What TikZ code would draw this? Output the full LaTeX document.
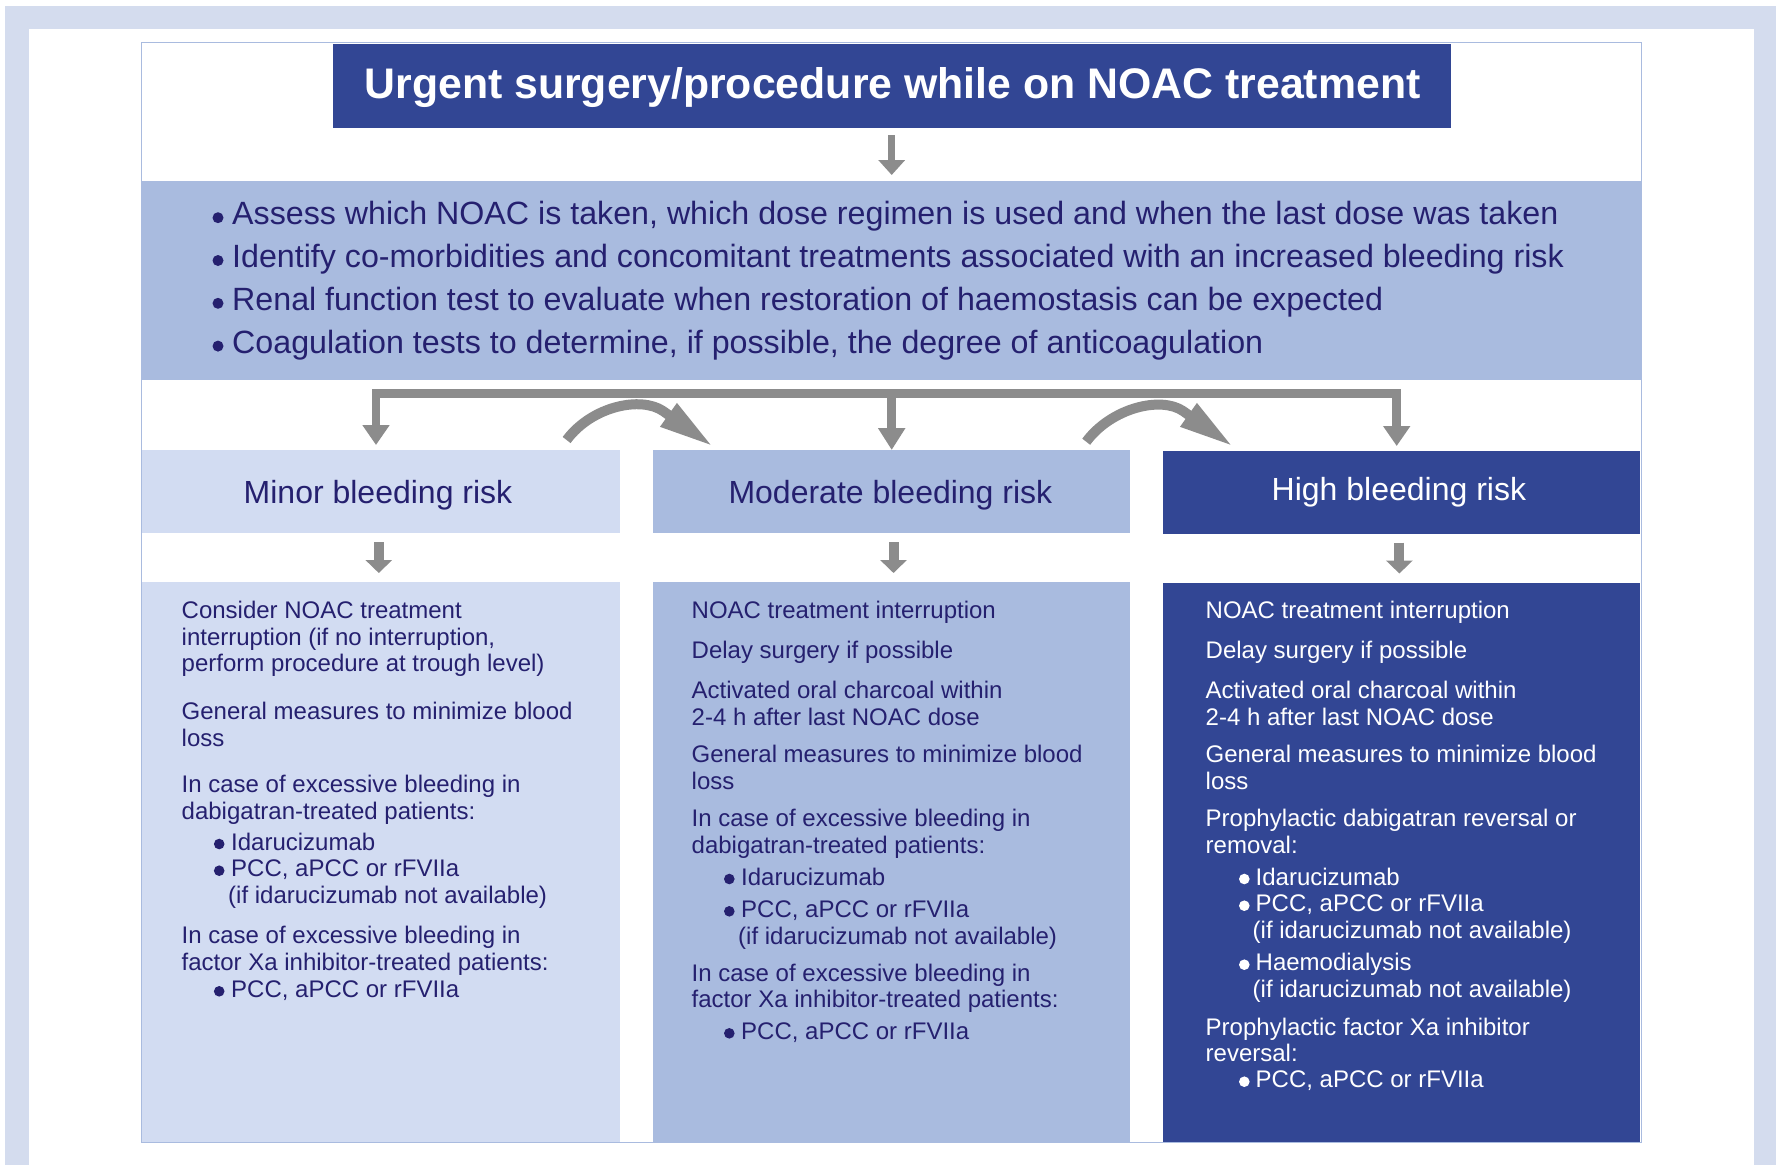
\documentclass[tikz,border=0pt]{standalone}
\usepackage{fontspec}
\setmainfont{Liberation Sans}
\usetikzlibrary{arrows.meta,calc}
\definecolor{framebg}{HTML}{D4DCEE}
\definecolor{lightb}{HTML}{D2DCF2}
\definecolor{midb}{HTML}{A9BBDF}
\definecolor{darkb}{HTML}{324694}
\definecolor{navy}{HTML}{25206F}
\definecolor{agray}{HTML}{8C8C8C}
\begin{document}
\begin{tikzpicture}[x=1pt,y=-1pt,
  box/.style={draw=none, inner sep=0pt, outer sep=0pt, anchor=north west},
  para/.style={inner sep=0pt, anchor=base west, align=left, text=navy, font=\fontsize{24pt}{26.7pt}\selectfont},
  wpara/.style={para, text=white},
  riskhead/.style={inner sep=0pt, anchor=base, font=\fontsize{32pt}{38pt}\selectfont},
  conn/.style={draw=agray, line width=8.5pt, line join=miter},
  smallarrow/.style={draw=agray, line width=10pt, -{Triangle[length=13pt,width=26pt]}, shorten <=8.7pt, shorten >=9pt},
  curvearrow/.style={draw=agray, line width=10pt, line join=round, -{Triangle[length=55pt,width=26pt]}},
]
\useasboundingbox (0,0) rectangle (1776,1165);
% outer frame
\fill[framebg] (5,6) rectangle (1776,1165);
\fill[white] (29,29) rectangle (1754,1165);
\node[box, fill=white, minimum width=1500pt, minimum height=1100.4pt] (frame) at (141.7,42.3) {};

% title
\node[box, fill=darkb, minimum width=1118pt, minimum height=84.2pt] (title) at (332.7,43.5) {};
\node[inner sep=0pt, anchor=base, text=white, font=\bfseries\fontsize{42.8pt}{50pt}\selectfont] (titletext) at (892.5,98.7) {Urgent surgery/procedure while on NOAC treatment};

% band (multi-line nodes: base anchor = last baseline)
\node[box, fill=midb, minimum width=1500pt, minimum height=199pt] (band) at (141.7,181) {};
\node[inner sep=0pt, anchor=base west, align=left, text=navy, font=\fontsize{32.2pt}{42.8pt}\selectfont] (bandtext) at (232,353.1)
 {Assess which NOAC is taken, which dose regimen is used and when the last dose was taken\\
  Identify co-morbidities and concomitant treatments associated with an increased bleeding risk\\
  Renal function test to evaluate when restoration of haemostasis can be expected\\
  Coagulation tests to determine, if possible, the degree of anticoagulation};
\foreach \k in {0,1,2,3} \fill[navy] (218,217.7+42.8*\k) circle (5.5);

% risk boxes
\node[box, fill=lightb, minimum width=477.6pt, minimum height=83.3pt] (minor) at (142,450) {};
\node[box, fill=midb, minimum width=477pt, minimum height=83.3pt] (moderate) at (653,450) {};
\node[box, fill=darkb, minimum width=476.9pt, minimum height=83.3pt] (high) at (1163.3,450.5) {};
\node[riskhead, text=navy] (minort) at (378,503.3) {Minor bleeding risk};
\node[riskhead, text=navy] (moderatet) at (890.4,503.3) {Moderate bleeding risk};
\node[riskhead, text=white] (hight) at (1398.9,500) {High bleeding risk};

% content boxes
\node[box, fill=lightb, minimum width=477.6pt, minimum height=560.3pt] (minorc) at (142,582) {};
\node[box, fill=midb, minimum width=477pt, minimum height=560.3pt] (moderatec) at (653,582) {};
\node[box, fill=darkb, minimum width=476.9pt, minimum height=559.5pt] (highc) at (1163.3,582.5) {};

% frame border
\draw[midb, line width=1.5pt] (frame.north west) rectangle (frame.south east);

% arrows
\draw[agray, line width=7.5pt, -{Triangle[length=15pt,width=26pt]}, shorten <=7.3pt, shorten >=6pt] (title.south) -- (title.south |- band.north);
\coordinate (hl) at (376,393.5);
\coordinate (hm) at (891.7,393.5);
\coordinate (hr) at (1396.7,393.5);
\draw[conn, {Triangle[length=20pt,width=26pt]}-{Triangle[length=20pt,width=26pt]}, shorten <=5pt, shorten >=4.5pt]
  (hl |- minor.north) -- (hl) -- (hr) -- (hr |- high.north);
\draw[conn, -{Triangle[length=22pt,width=26pt]}] (hm) -- (hm |- moderate.north);
\coordinate (a1s) at ($(minor.north east)+(-53,-10)$);
\coordinate (a1t) at ($(moderate.north west)+(60.3,-3.3)$);
\coordinate (a2s) at ($(moderate.north east)+(-43.8,-8.3)$);
\coordinate (a2t) at ($(high.north west)+(70,-3.8)$);
\draw[curvearrow] (a1s) .. controls +(25.4,-34) and +(-22,-15) .. ($(a1t)+(-50.3,-35.7)$) -- (a1t);
\draw[curvearrow] (a2s) .. controls +(25.4,-34) and +(-22,-15) .. ($(a2t)+(-50.3,-35.7)$) -- (a2t);
\draw[smallarrow] ([xshift=-2pt]minor.south) -- ([xshift=-2pt]minor.south |- minorc.north);
\draw[smallarrow] ([xshift=2pt]moderate.south) -- ([xshift=2pt]moderate.south |- moderatec.north);
\draw[smallarrow] ([xshift=-2.4pt]high.south) -- ([xshift=-2.4pt]high.south |- highc.north);

% minor column
\node[para] (mi1) at (181.5,671.7) {Consider NOAC treatment\\interruption (if no interruption,\\perform procedure at trough level)};
\node[para] (mi2) at (181.5,746) {General measures to minimize blood\\loss};
\node[para] (mi3) at (181.5,819) {In case of excessive bleeding in\\dabigatran-treated patients:};
\node[para] (mi4) at (231,850) {Idarucizumab};
\node[para] (mi5) at (231,903.4) {PCC, aPCC or rFVIIa\\\hspace*{-3pt}(if idarucizumab not available)};
\node[para] (mi6) at (181.5,970) {In case of excessive bleeding in\\factor Xa inhibitor-treated patients:};
\node[para] (mi7) at (231,997.3) {PCC, aPCC or rFVIIa};
\foreach \yy in {844,870.7,991.3} \fill[navy] (219.2,\yy) circle (5.3);

% moderate column
\node[para] (mo1) at (691.5,618.3) {NOAC treatment interruption};
\node[para] (mo2) at (691.5,658.3) {Delay surgery if possible};
\node[para] (mo3) at (691.5,725) {Activated oral charcoal within\\2-4 h after last NOAC dose};
\node[para] (mo4) at (691.5,789) {General measures to minimize blood\\loss};
\node[para] (mo5) at (691.5,853.4) {In case of excessive bleeding in\\dabigatran-treated patients:};
\node[para] (mo6) at (741,885) {Idarucizumab};
\node[para] (mo7) at (741,944) {PCC, aPCC or rFVIIa\\\hspace*{-3pt}(if idarucizumab not available)};
\node[para] (mo8) at (691.5,1007.7) {In case of excessive bleeding in\\factor Xa inhibitor-treated patients:};
\node[para] (mo9) at (741,1039.3) {PCC, aPCC or rFVIIa};
\foreach \yy in {879,911.3,1033.3} \fill[navy] (729.3,\yy) circle (5.3);

% high column
\node[wpara] (hi1) at (1205.5,618.3) {NOAC treatment interruption};
\node[wpara] (hi2) at (1205.5,658.3) {Delay surgery if possible};
\node[wpara] (hi3) at (1205.5,725) {Activated oral charcoal within\\2-4 h after last NOAC dose};
\node[wpara] (hi4) at (1205.5,789) {General measures to minimize blood\\loss};
\node[wpara] (hi5) at (1205.5,853.4) {Prophylactic dabigatran reversal or\\removal:};
\node[wpara] (hi6) at (1255.5,885) {Idarucizumab};
\node[wpara] (hi7) at (1255.5,938.4) {PCC, aPCC or rFVIIa\\\hspace*{-3pt}(if idarucizumab not available)};
\node[wpara] (hi8) at (1255.5,997.4) {Haemodialysis\\\hspace*{-3pt}(if idarucizumab not available)};
\node[wpara] (hi9) at (1205.5,1061.7) {Prophylactic factor Xa inhibitor\\reversal:};
\node[wpara] (hi10) at (1255.5,1087.7) {PCC, aPCC or rFVIIa};
\foreach \yy in {879,905.7,964.7,1081.7} \fill[white] (1244.3,\yy) circle (5.3);
\end{tikzpicture}
\end{document}
